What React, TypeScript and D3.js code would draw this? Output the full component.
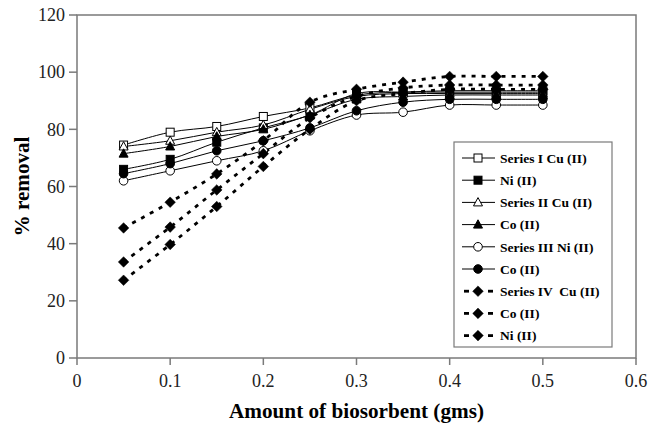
import React from "react";
import * as d3 from "d3";

const xValues = [0.05, 0.1, 0.15, 0.2, 0.25, 0.3, 0.35, 0.4, 0.45, 0.5];

const cuI = [74.5, 79, 81, 84.5, 87.5, 92, 93, 93.5, 93.5, 93.5];
const niI = [66, 69.5, 75.5, 80.5, 85, 92.5, 93, 93, 93, 93];
const cuII = [74, 76, 79, 81.5, 87, 91.5, 92.5, 92.5, 92.5, 92.5];
const coII = [71.5, 74, 77.5, 80, 85, 90.5, 91.5, 92, 92, 92];
const niIII = [62, 65.5, 69, 72.5, 79.5, 85, 86, 88.5, 88.5, 88.5];
const coIII = [64.5, 68, 72.5, 76, 80.5, 86.5, 89.5, 90.5, 90.5, 90.5];
const cuIV = [45.5, 54.5, 64.4, 76, 89.5, 94, 96.5, 98.5, 98.5, 98.5];
const coIV = [33.6, 45.8, 58.8, 71.5, 84, 91.5, 94.5, 95.5, 95.5, 95.5];
const niIV = [27.2, 39.7, 53, 67, 80, 90, 92.5, 94, 94, 94];

const legendLabels = [
  "Series I Cu (II)",
  "Ni (II)",
  "Series II Cu (II)",
  "Co (II)",
  "Series III Ni (II)",
  "Co (II)",
  "Series IV  Cu (II)",
  "Co (II)",
  "Ni (II)",
];

const xTicks = [0, 0.1, 0.2, 0.3, 0.4, 0.5, 0.6];
const yTicks = [0, 20, 40, 60, 80, 100, 120];

type Marker = "sqOpen" | "sqFill" | "triOpen" | "triFill" | "cirOpen" | "cirFill" | "dia";

const series: { values: number[]; marker: Marker; dashed: boolean }[] = [
  { values: cuI, marker: "sqOpen", dashed: false },
  { values: niI, marker: "sqFill", dashed: false },
  { values: cuII, marker: "triOpen", dashed: false },
  { values: coII, marker: "triFill", dashed: false },
  { values: niIII, marker: "cirOpen", dashed: false },
  { values: coIII, marker: "cirFill", dashed: false },
  { values: cuIV, marker: "dia", dashed: true },
  { values: coIV, marker: "dia", dashed: true },
  { values: niIV, marker: "dia", dashed: true },
];

const W = 663;
const H = 429;
const left = 77;
const right = 636;
const top = 15;
const bottom = 358;

const x = d3.scaleLinear().domain([0, 0.6]).range([left, right]);
const y = d3.scaleLinear().domain([0, 120]).range([bottom, top]);

const axisColor = "#7a7a7a";
const font = "'Liberation Serif', 'Times New Roman', serif";

function MarkerShape({ m, cx, cy }: { m: Marker; cx: number; cy: number }) {
  switch (m) {
    case "sqOpen":
    case "sqFill":
      return (
        <rect x={cx - 4} y={cy - 4} width={8} height={8}
          fill={m === "sqFill" ? "#000" : "#fff"} stroke="#000" strokeWidth={1} />
      );
    case "triOpen":
    case "triFill":
      return (
        <path d={`M${cx},${cy - 4.8}L${cx + 4.5},${cy + 3.5}L${cx - 4.5},${cy + 3.5}Z`}
          fill={m === "triFill" ? "#000" : "#fff"} stroke="#000" strokeWidth={1} />
      );
    case "cirOpen":
    case "cirFill":
      return (
        <circle cx={cx} cy={cy} r={4.3}
          fill={m === "cirFill" ? "#000" : "#fff"} stroke="#000" strokeWidth={1} />
      );
    case "dia":
      return (
        <path d={`M${cx},${cy - 5.3}L${cx + 5.3},${cy}L${cx},${cy + 5.3}L${cx - 5.3},${cy}Z`}
          fill="#000" stroke="#000" strokeWidth={0.5} />
      );
  }
}

export default function App() {
  const line = d3
    .line<number>()
    .x((_, i) => x(xValues[i]))
    .y((v) => y(v))
    .curve(d3.curveCatmullRom.alpha(0.5));

  const legX = 454;
  const legY = 142;
  const legW = 158;
  const legH = 205;
  const rowY0 = 158;
  const rowStep = 22.2;

  return (
    <svg width={W} height={H} style={{ position: "absolute", left: 0, top: 0, background: "#fff" }}>
      {/* frame */}
      <rect x={left} y={top} width={right - left} height={bottom - top}
        fill="none" stroke={axisColor} strokeWidth={1.5} />
      {/* y ticks */}
      {yTicks.map((t) => (
        <g key={"y" + t}>
          <line x1={left - 8} x2={left} y1={y(t)} y2={y(t)} stroke={axisColor} strokeWidth={1.5} />
          <text x={left - 12} y={y(t)} dy="0.35em" textAnchor="end"
            fontFamily={font} fontSize={18} fill="#222">{t}</text>
        </g>
      ))}
      {/* x ticks */}
      {xTicks.map((t) => (
        <g key={"x" + t}>
          <line x1={x(t)} x2={x(t)} y1={bottom} y2={bottom + 7} stroke={axisColor} strokeWidth={1.5} />
          <text x={x(t)} y={bottom + 29} textAnchor="middle"
            fontFamily={font} fontSize={18} fill="#222">{t}</text>
        </g>
      ))}
      {/* axis titles */}
      <text x={(left + right) / 2} y={418} textAnchor="middle" fontFamily={font}
        fontWeight="bold" fontSize={20} textLength={255} lengthAdjust="spacingAndGlyphs"
        fill="#000">Amount of biosorbent (gms)</text>
      <text transform={`translate(29,${(top + bottom) / 2}) rotate(-90)`} textAnchor="middle"
        fontFamily={font} fontWeight="bold" fontSize={21} textLength={100}
        lengthAdjust="spacingAndGlyphs" fill="#000">% removal</text>

      {/* lines */}
      {series.map((s, i) => (
        <path key={"l" + i} d={line(s.values) || ""} fill="none" stroke="#000"
          strokeWidth={s.dashed ? 2.8 : 1}
          strokeDasharray={s.dashed ? "4 6" : undefined} />
      ))}
      {/* markers */}
      {series.map((s, i) => (
        <g key={"m" + i}>
          {s.values.map((v, j) => (
            <MarkerShape key={j} m={s.marker} cx={x(xValues[j])} cy={y(v)} />
          ))}
        </g>
      ))}

      {/* legend */}
      <rect x={legX} y={legY} width={legW} height={legH} fill="#fff" stroke={axisColor} strokeWidth={1.2} />
      {series.map((s, i) => {
        const ry = rowY0 + i * rowStep;
        return (
          <g key={"lg" + i}>
            {s.dashed ? (
              <>
                <line x1={464} x2={469} y1={ry} y2={ry} stroke="#000" strokeWidth={2.8} />
                <line x1={488} x2={493} y1={ry} y2={ry} stroke="#000" strokeWidth={2.8} />
              </>
            ) : (
              <line x1={462} x2={495} y1={ry} y2={ry} stroke="#000" strokeWidth={1} />
            )}
            <MarkerShape m={s.marker} cx={478} cy={ry} />
            <text x={500} y={ry} dy="0.35em" fontFamily={font} fontWeight="bold"
              fontSize={13.5} fill="#000" style={{ whiteSpace: "pre" }}>{legendLabels[i]}</text>
          </g>
        );
      })}
    </svg>
  );
}
